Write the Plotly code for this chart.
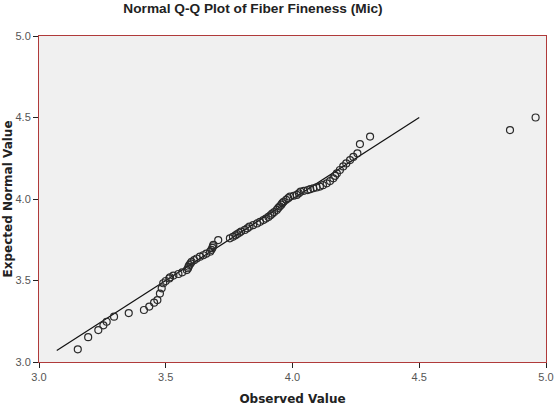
import plotly.graph_objects as go

title_text = "Normal Q-Q Plot of Fiber Fineness (Mic)"
x_title = "Observed Value"
y_title = "Expected Normal Value"

observed = [
    3.153, 3.194, 3.234, 3.254, 3.267, 3.296, 3.354, 3.414, 3.435, 3.454,
    3.467, 3.477, 3.484, 3.490, 3.500, 3.514, 3.517, 3.530, 3.550, 3.565,
    3.583, 3.588, 3.590, 3.593, 3.598, 3.602, 3.612, 3.622, 3.635, 3.648,
    3.660, 3.675, 3.680, 3.684, 3.686, 3.688, 3.707, 3.753, 3.765, 3.775,
    3.782, 3.790, 3.797, 3.812, 3.822, 3.830, 3.845, 3.860, 3.872, 3.885,
    3.895, 3.905, 3.913, 3.920, 3.928, 3.938, 3.944, 3.950, 3.956, 3.960,
    3.965, 3.975, 3.983, 3.990, 4.005, 4.017, 4.025, 4.032, 4.045, 4.060,
    4.070, 4.082, 4.095, 4.108, 4.120, 4.135, 4.148, 4.161, 4.168, 4.175,
    4.187, 4.200, 4.212, 4.227, 4.240, 4.256, 4.266, 4.306, 4.858, 4.959,
]
expected = [
    3.078, 3.152, 3.196, 3.225, 3.247, 3.278, 3.300, 3.319, 3.340, 3.364,
    3.380, 3.420, 3.452, 3.483, 3.497, 3.513, 3.520, 3.530, 3.540, 3.550,
    3.564, 3.575, 3.585, 3.595, 3.605, 3.615, 3.625, 3.635, 3.646, 3.655,
    3.665, 3.677, 3.688, 3.700, 3.710, 3.718, 3.748, 3.759, 3.768, 3.777,
    3.785, 3.793, 3.800, 3.810, 3.820, 3.830, 3.840, 3.850, 3.860, 3.871,
    3.880, 3.890, 3.900, 3.910, 3.920, 3.933, 3.945, 3.955, 3.965, 3.975,
    3.983, 3.995, 4.005, 4.014, 4.020, 4.025, 4.035, 4.045, 4.050, 4.055,
    4.060, 4.066, 4.071, 4.076, 4.085, 4.096, 4.110, 4.127, 4.142, 4.157,
    4.178, 4.200, 4.218, 4.239, 4.258, 4.280, 4.337, 4.383, 4.423, 4.500,
]
ref_line_x = [3.07, 4.5]
ref_line_y = [3.07, 4.5]
tick_vals = [3.0, 3.5, 4.0, 4.5, 5.0]
tick_text = ["3.0", "3.5", "4.0", "4.5", "5.0"]

font_family = "Arial, Liberation Sans, sans-serif"
title_family = "DejaVu Sans, Verdana, sans-serif"
border_color = "#b03a3a"

fig = go.Figure()
fig.add_trace(go.Scatter(
    x=ref_line_x, y=ref_line_y, mode="lines",
    line=dict(color="#111111", width=1.2), showlegend=False, hoverinfo="skip",
))
fig.add_trace(go.Scatter(
    x=observed, y=expected, mode="markers",
    marker=dict(symbol="circle-open", size=7, color="#2a2a2a", line=dict(width=1.2)),
    showlegend=False,
))

axis_common = dict(
    showgrid=False, zeroline=False, showline=True, mirror=True,
    linecolor=border_color, linewidth=1, automargin=False,
    ticks="outside", ticklen=5, tickcolor="#222222", tickwidth=1,
    tickvals=tick_vals, ticktext=tick_text,
    tickfont=dict(family=font_family, size=11, color="#555555"),
)

fig.update_layout(
    width=555, height=406,
    margin=dict(l=39, r=9, t=36, b=44),
    paper_bgcolor="white", plot_bgcolor="#f0f0f0",
    title=dict(text="<b>" + title_text + "</b>", x=253 / 555, xanchor="center",
               y=1 - 8 / 406, yanchor="middle",
               font=dict(family=font_family, size=13.7, color="#222222")),
    xaxis=dict(range=[3.0, 5.0],
               title=dict(text="<b>" + x_title + "</b>", standoff=13,
                          font=dict(family=title_family, size=12, color="#222222")),
               **axis_common),
    yaxis=dict(range=[3.0, 5.0],
               title=dict(text="<b>" + y_title + "</b>", standoff=0,
                          font=dict(family=title_family, size=12, color="#222222")),
               **axis_common),
)

fig.write_html("out.html")
